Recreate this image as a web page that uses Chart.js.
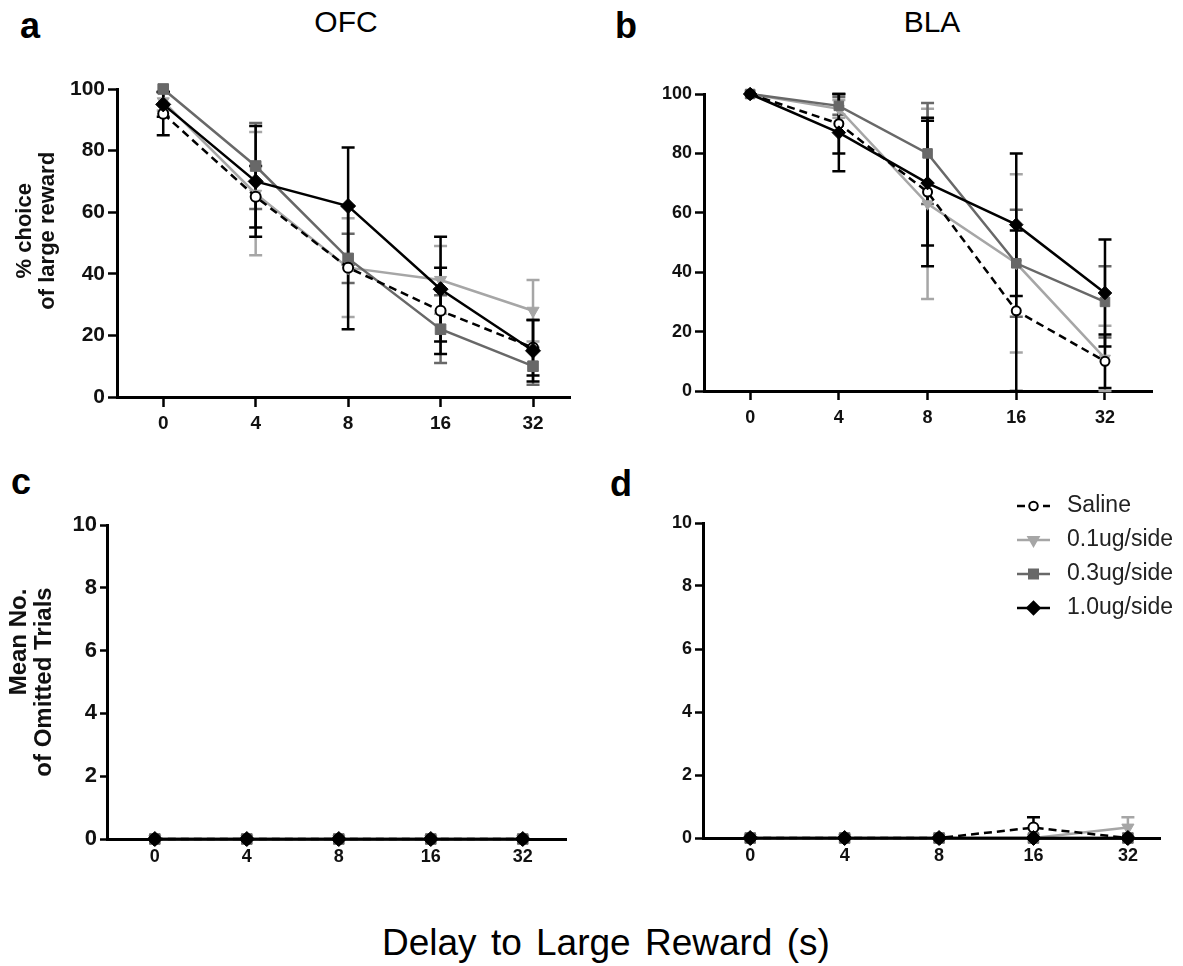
<!DOCTYPE html>
<html>
<head>
<meta charset="utf-8">
<script src="https://cdn.jsdelivr.net/npm/chart.js@4/dist/chart.umd.min.js"></script>
<style>
  body { margin: 0; width: 1183px; height: 966px; background: #fff; position: relative; overflow: hidden;
         font-family: 'Liberation Sans', Arial, sans-serif; }
  canvas { position: absolute; }
  .txt { position: absolute; white-space: nowrap; line-height: 1; color: #000; }
  .letter { font-size: 36px; font-weight: bold; }
  .area { font-size: 30px; }
</style>
</head>
<body>
<div class="txt letter" style="left:20px; top:8px">a</div>
<div class="txt letter" style="left:615px; top:8px">b</div>
<div class="txt letter" style="left:11px; top:464px">c</div>
<div class="txt letter" style="left:610px; top:466px">d</div>
<div class="txt area" style="left:346px; top:7px; transform:translateX(-50%)">OFC</div>
<div class="txt area" style="left:932px; top:7px; transform:translateX(-50%)">BLA</div>
<div class="txt" style="left:382px; top:924px; font-size:37px; word-spacing:4px">Delay to Large Reward (s)</div>

<canvas id="ofcChoice" width="590" height="380" style="left:0; top:60px"></canvas>
<canvas id="blaChoice" width="583" height="380" style="left:600px; top:60px"></canvas>
<canvas id="ofcOmit" width="590" height="400" style="left:0; top:480px"></canvas>
<canvas id="blaOmit" width="583" height="400" style="left:600px; top:480px"></canvas>

<script>
const delays = ['0', '4', '8', '16', '32'];
const groups = ['Saline', '0.1ug/side', '0.3ug/side', '1.0ug/side'];

// rows follow `groups`, columns follow `delays`
const ofcChoice = [
  [92, 65, 42, 28, 16],
  [96, 66, 42, 38, 28],
  [100, 75, 45, 22, 10],
  [95, 70, 62, 35, 15]
];
const ofcChoiceSem = [
  [7, 10, 20, 14, 9],
  [3, 20, 16, 11, 10],
  [1, 14, 8, 11, 6],
  [4, 18, 19, 17, 10]
];
const blaChoice = [
  [100, 90, 67, 27, 10],
  [100, 95, 63, 43, 11],
  [100, 96, 80, 43, 30],
  [100, 87, 70, 56, 33]
];
const blaChoiceSem = [
  [0, 10, 25, 27, 9],
  [0, 3, 32, 30, 11],
  [0, 3, 17, 18, 12],
  [0, 13, 21, 24, 18]
];
const ofcOmit = [
  [0, 0, 0, 0, 0],
  [0, 0, 0, 0, 0],
  [0, 0, 0, 0, 0],
  [0, 0, 0, 0, 0]
];
const ofcOmitSem = [
  [0, 0, 0, 0, 0],
  [0, 0, 0, 0, 0],
  [0, 0, 0, 0, 0],
  [0, 0, 0, 0, 0]
];
const blaOmit = [
  [0, 0, 0, 0.33, 0],
  [0, 0, 0, 0, 0.33],
  [0, 0, 0, 0, 0],
  [0, 0, 0, 0, 0]
];
const blaOmitSem = [
  [0, 0, 0, 0.33, 0],
  [0, 0, 0, 0, 0.33],
  [0, 0, 0, 0, 0],
  [0, 0, 0, 0, 0]
];

// look of each group
const styles = [
  { color: '#000000', fill: '#ffffff', shape: 'circle', rotation: 0, radius: 5, dash: [8, 5] },
  { color: '#a6a6a6', fill: '#a6a6a6', shape: 'triangle', rotation: 180, radius: 7, dash: [] },
  { color: '#686868', fill: '#686868', shape: 'rect', rotation: 0, radius: 7.5, dash: [] },
  { color: '#000000', fill: '#000000', shape: 'rectRot', rotation: 0, radius: 7.5, dash: [] }
];
const layer = [1, 3, 2, 0]; // lower = drawn on top

const FONT = "'Liberation Sans', Arial, sans-serif";

// vertical SEM bars with caps, clamped to the axis range
const errorBars = {
  id: 'errorBars',
  beforeDatasetsDraw(chart, args, o) {
    const ctx = chart.ctx;
    const ys = chart.scales.y;
    const metas = chart.getSortedVisibleDatasetMetas().slice().reverse();
    ctx.save();
    metas.forEach(meta => {
      const ds = chart.data.datasets[meta.index];
      ctx.strokeStyle = ds.borderColor;
      ctx.lineWidth = 2.5;
      meta.data.forEach((pt, i) => {
        const v = ds.data[i].y, e = ds.errors[i];
        if (!e) return;
        const hi = v + e, lo = v - e;
        const yHi = ys.getPixelForValue(Math.min(hi, ys.max));
        const yLo = ys.getPixelForValue(Math.max(lo, ys.min));
        ctx.beginPath();
        ctx.moveTo(pt.x, yHi);
        ctx.lineTo(pt.x, yLo);
        if (hi <= ys.max + 0.001) { ctx.moveTo(pt.x - o.cap, yHi); ctx.lineTo(pt.x + o.cap, yHi); }
        if (lo >= ys.min) { ctx.moveTo(pt.x - o.cap, yLo); ctx.lineTo(pt.x + o.cap, yLo); }
        ctx.stroke();
      });
    });
    ctx.restore();
  }
};

// key drawn inside panel d
const keyBox = {
  id: 'keyBox',
  afterDraw(chart, args, o) {
    if (!o.show) return;
    const ctx = chart.ctx;
    ctx.save();
    groups.forEach((name, g) => {
      const st = styles[g];
      const y = o.top + g * o.gap;
      ctx.strokeStyle = st.color;
      ctx.lineWidth = 2.5;
      ctx.setLineDash(st.dash);
      ctx.beginPath();
      ctx.moveTo(o.left, y);
      ctx.lineTo(o.left + o.len, y);
      ctx.stroke();
      ctx.setLineDash([]);
      ctx.fillStyle = st.fill;
      ctx.lineWidth = 2;
      Chart.helpers.drawPoint(ctx, { pointStyle: st.shape, rotation: st.rotation, radius: st.radius * 0.85, borderWidth: st.shape === 'circle' ? 2 : 1 },
        o.left + o.len / 2, y);
      ctx.fillStyle = '#222';
      ctx.font = o.font;
      ctx.textBaseline = 'middle';
      ctx.fillText(name, o.textX, y);
    });
    ctx.restore();
  }
};

function panel(id, means, sems, p) {
  const datasets = groups.map((name, g) => {
    const st = styles[g];
    return {
      label: name,
      data: means[g].map((v, i) => ({ x: i, y: v })),
      errors: sems[g],
      order: layer[g],
      borderColor: st.color,
      borderWidth: 2.5,
      borderDash: st.dash,
      pointStyle: st.shape,
      pointRotation: st.rotation,
      pointRadius: st.radius * p.mark,
      pointBackgroundColor: st.fill,
      pointBorderColor: st.color,
      pointBorderWidth: st.shape === 'circle' ? 2 : 1,
      tension: 0,
      fill: false,
      clip: false
    };
  });

  return new Chart(document.getElementById(id), {
    type: 'line',
    data: { datasets },
    plugins: [errorBars, keyBox],
    options: {
      responsive: false,
      animation: false,
      events: [],
      layout: { padding: { top: p.padTop, right: p.padRight, left: 0, bottom: 0 } },
      plugins: {
        legend: { display: false },
        tooltip: { enabled: false },
        errorBars: { cap: 6.5 },
        keyBox: p.key || { show: false }
      },
      scales: {
        x: {
          type: 'linear',
          min: p.xMin,
          max: p.xMax,
          afterBuildTicks: s => { s.ticks = delays.map((d, i) => ({ value: i })); },
          afterFit: s => { s.height = p.xHeight; },
          ticks: {
            callback: v => delays[v],
            autoSkip: false,
            maxRotation: 0,
            padding: p.xPad,
            color: '#111',
            font: { family: FONT, size: p.xFont, weight: 'bold' }
          },
          grid: { drawOnChartArea: false, tickLength: p.xTick, tickWidth: 2.5, tickColor: '#000' },
          border: { color: '#000', width: 3 }
        },
        y: {
          min: 0,
          max: p.yMax,
          afterFit: s => { s.width = p.yWidth; },
          ticks: {
            stepSize: p.yStep,
            padding: 3,
            color: '#111',
            font: { family: FONT, size: p.yFont, weight: 'bold' }
          },
          grid: { drawOnChartArea: false, tickLength: p.yTick, tickWidth: 2.5, tickColor: '#000' },
          border: { color: '#000', width: 3 },
          title: {
            display: !!p.title,
            text: p.title,
            color: '#111',
            padding: { top: p.titlePad, bottom: 0 },
            font: { family: FONT, size: p.titleFont, weight: 'bold', lineHeight: p.titleLine }
          }
        }
      }
    }
  });
}

panel('ofcChoice', ofcChoice, ofcChoiceSem, {
  padTop: 29, padRight: 20, yWidth: 117, xHeight: 43,
  xMin: -0.5, xMax: 4.4, yMax: 100, yStep: 20,
  xFont: 19, xTick: 10, xPad: 5, yFont: 21, yTick: 9, mark: 1,
  title: ['    % choice', '    of large reward'], titleFont: 22, titleLine: 1.05, titlePad: 13
});

panel('blaChoice', blaChoice, blaChoiceSem, {
  padTop: 34, padRight: 31, yWidth: 104, xHeight: 49,
  xMin: -0.52, xMax: 4.53, yMax: 100, yStep: 20,
  xFont: 18, xTick: 9, xPad: 7, yFont: 18, yTick: 9, mark: 0.9,
  title: null
});

panel('ofcOmit', ofcOmit, ofcOmitSem, {
  padTop: 45, padRight: 24, yWidth: 107, xHeight: 41,
  xMin: -0.52, xMax: 4.47, yMax: 10, yStep: 2,
  xFont: 18, xTick: 7, xPad: 0, yFont: 22, yTick: 7, mark: 1,
  title: ['            Mean No.', 'of Omitted Trials'], titleFont: 24, titleLine: 1.05, titlePad: 7
});

panel('blaOmit', blaOmit, blaOmitSem, {
  padTop: 43, padRight: 23, yWidth: 103, xHeight: 42,
  xMin: -0.5, xMax: 4.34, yMax: 10, yStep: 2,
  xFont: 18, xTick: 7, xPad: 0, yFont: 18, yTick: 8, mark: 1,
  title: null,
  key: { show: true, left: 417, len: 33, textX: 467, top: 26, gap: 34, font: "23px " + FONT }
});
</script>
</body>
</html>
